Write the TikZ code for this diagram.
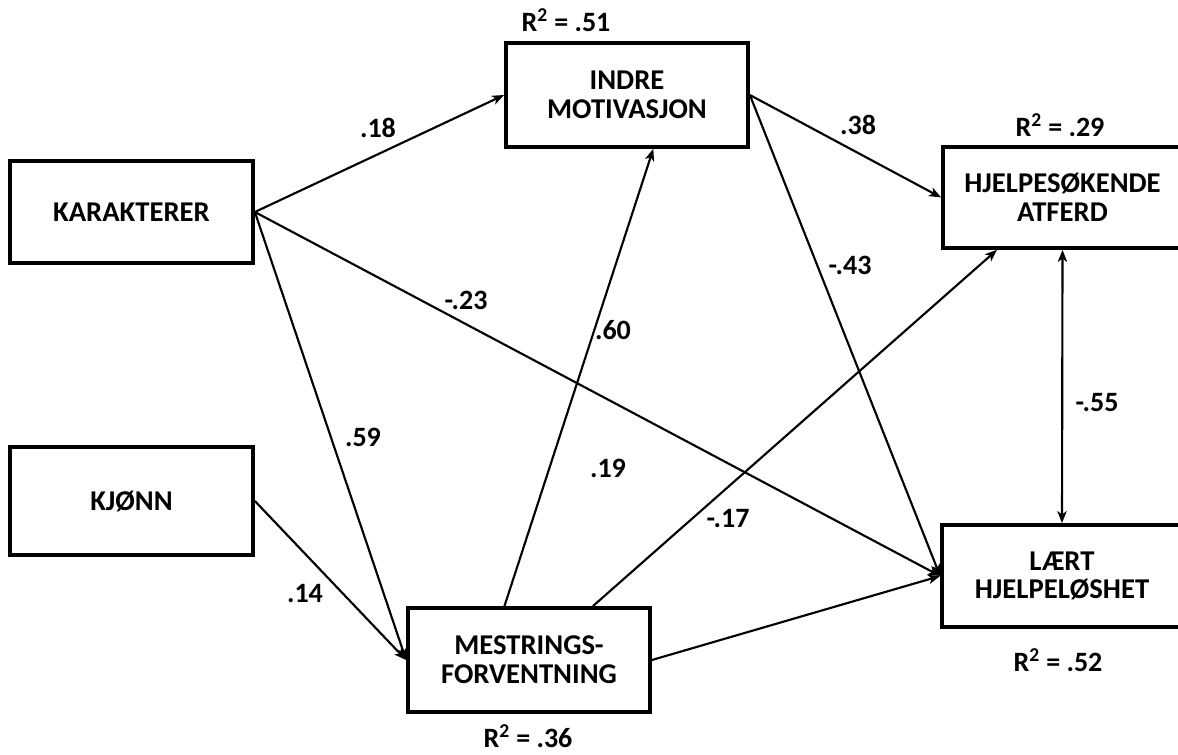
\documentclass[tikz,border=0pt]{standalone}
\usepackage{fontspec}
\setmainfont{Carlito}
\usetikzlibrary{arrows.meta,calc}
\begin{document}
\begin{tikzpicture}[x=0.75pt,y=-0.75pt,
  box/.style={draw=black,line width=2.8pt,fill=white,align=center,inner sep=0pt,
    font=\fontsize{21.5}{21.5}\selectfont\bfseries},
  conn/.style={line width=1.6pt,-{Stealth[length=9pt,width=7pt,inset=2.5pt]}},
  lab/.style={font=\fontsize{21}{24}\selectfont\bfseries,inner sep=0pt}]
\useasboundingbox (0,0) rectangle (1178,754);
\fill[white] (0,0) rectangle (1178,754);
% nodes
\node[box,minimum width=243*0.75pt,minimum height=102*0.75pt] (kar) at (131.5,212) {KARAKTERER};
\node[box,minimum width=243*0.75pt,minimum height=108*0.75pt] (kjo) at (131.5,501) {KJØNN};
\node[box,minimum width=242*0.75pt,minimum height=104*0.75pt] (ind) at (627,95) {INDRE\\MOTIVASJON};
\node[box,minimum width=239*0.75pt,minimum height=101*0.75pt] (hje) at (1062.5,197.5) {HJELPESØKENDE\\ATFERD};
\node[box,minimum width=240*0.75pt,minimum height=102*0.75pt] (lae) at (1062,576) {LÆRT\\HJELPELØSHET};
\node[box,minimum width=242*0.75pt,minimum height=104*0.75pt] (mes) at (529,660) {MESTRINGS-\\FORVENTNING};
% anchor points
\coordinate (mesA) at ($(mes.north west)!0.40!(mes.north east)$);
\coordinate (mesB) at ($(mes.north west)!0.76!(mes.north east)$);
\coordinate (indB) at ($(ind.south west)!0.607!(ind.south east)$);
\coordinate (hjeB) at ($(hje.south west)!0.23!(hje.south east)$);
% connectors
\draw[conn] (kar.east) -- (ind.west);
\draw[conn] (kar.east) -- (lae.west);
\draw[conn] (kar.east) -- (mes.west);
\draw[conn] (kjo.east) -- (mes.west);
\draw[conn] (mesA) -- (indB);
\draw[conn] (ind.east) -- (hje.west);
\draw[conn] (ind.east) -- (lae.west);
\draw[conn] (mesB) -- (hjeB);
\draw[conn] (mes.east) -- (lae.west);
\draw[line width=1.6pt,{Stealth[length=9pt,width=7pt,inset=2.5pt]}-{Stealth[length=9pt,width=7pt,inset=2.5pt]}] (hje.south) -- (lae.north);
% path labels
\node[lab] (l18) at (378,128) {.18};
\node[lab] (l23) at (466,300) {-.23};
\node[lab] (l59) at (363,437) {.59};
\node[lab] (l14) at (305,593) {.14};
\node[lab] (l60) at (613,330) {.60};
\node[lab] (l38) at (858,125) {.38};
\node[lab] (l43) at (850,265) {-.43};
\node[lab] (l19) at (608,468) {.19};
\node[lab] (l17) at (728,518) {-.17};
\node[lab] (l55) at (1097,403) {-.55};
% R squared
\node[lab] (r51) at (566,20) {R\textsuperscript{2} = .51};
\node[lab] (r29) at (1060,125) {R\textsuperscript{2} = .29};
\node[lab] (r52) at (1058,660) {R\textsuperscript{2} = .52};
\node[lab] (r36) at (528,736) {R\textsuperscript{2} = .36};
\end{tikzpicture}
\end{document}
